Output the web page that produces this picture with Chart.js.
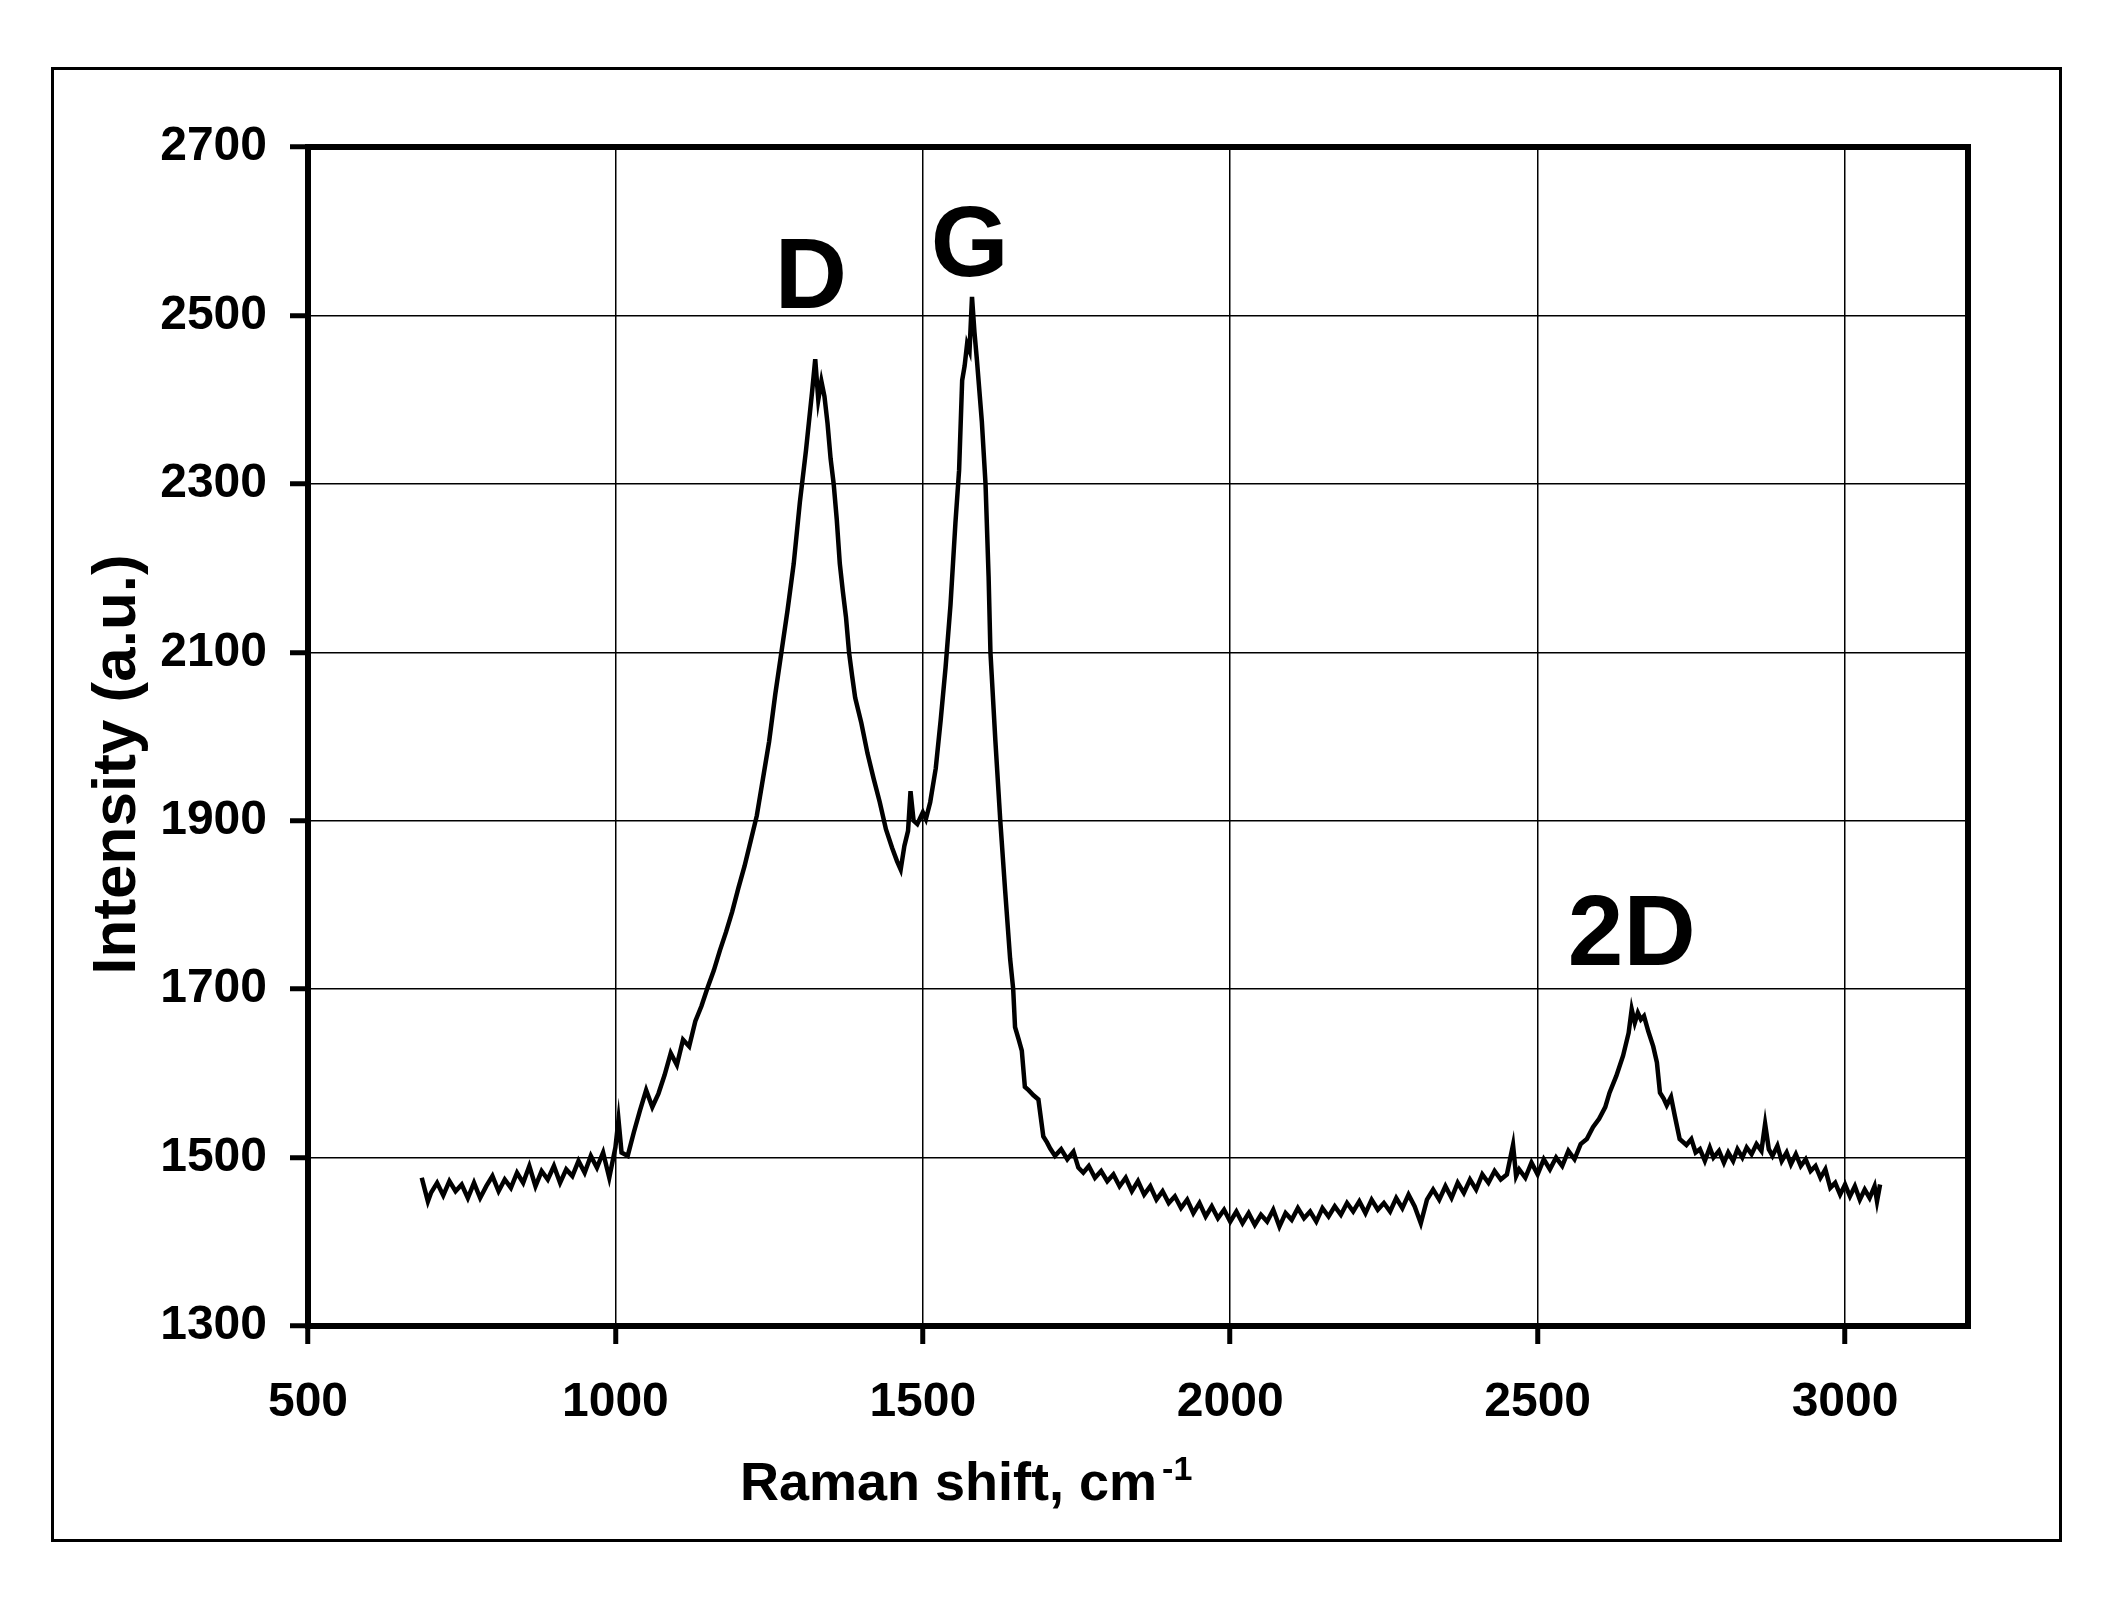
<!DOCTYPE html>
<html><head><meta charset="utf-8">
<script src="https://cdn.jsdelivr.net/npm/chart.js@4.4.1/dist/chart.umd.min.js"></script>
<style>html,body{margin:0;padding:0;background:#fff}canvas{display:block}</style>
</head><body>
<canvas id="c" width="2120" height="1604"></canvas>
<script>
// ---- data ----
const ramanShift = [
 685,690,695,700,710,720,730,740,750,760,
 770,780,790,800,810,820,830,840,850,860,
 870,880,890,900,910,920,930,940,950,960,
 970,980,990,1000,1005,1010,1020,1030,1040,1050,
 1060,1070,1080,1090,1100,1110,1120,1130,1140,1150,
 1160,1170,1180,1190,1200,1210,1220,1230,1240,1250,
 1260,1270,1280,1290,1300,1310,1320,1325,1330,1335,
 1340,1345,1350,1355,1360,1365,1370,1375,1380,1385,
 1390,1400,1410,1420,1430,1440,1450,1458,1464,1470,
 1476,1480,1485,1491,1500,1505,1512,1521,1529,1537,
 1545,1553,1559,1564,1568,1572,1576,1580,1584,1588,
 1596,1602,1607,1610,1618,1626,1634,1642,1647,1650,
 1656,1661,1666,1672,1680,1688,1696,1702,1707,1715,
 1725,1735,1745,1753,1761,1770,1780,1790,1800,1810,
 1820,1830,1840,1850,1860,1870,1880,1890,1900,1910,
 1920,1930,1940,1950,1960,1970,1980,1990,2000,2010,
 2020,2030,2040,2050,2060,2070,2080,2090,2100,2110,
 2120,2130,2140,2150,2160,2170,2180,2190,2200,2210,
 2220,2230,2240,2250,2260,2270,2280,2290,2300,2310,
 2320,2330,2340,2350,2360,2370,2380,2390,2400,2410,
 2420,2430,2440,2450,2460,2465,2470,2480,2490,2500,
 2510,2520,2530,2540,2550,2560,2570,2580,2590,2600,
 2610,2617,2628,2639,2648,2653,2658,2663,2668,2673,
 2680,2688,2694,2699,2705,2710,2717,2723,2731,2742,
 2750,2757,2764,2772,2780,2786,2795,2803,2810,2818,
 2825,2833,2840,2848,2856,2864,2870,2876,2882,2890,
 2897,2905,2912,2920,2928,2936,2944,2952,2960,2968,
 2976,2984,2992,3000,3008,3016,3024,3032,3040,3048,
 3052,3057
];
const intensity = [
 1476,1462,1448,1458,1470,1455,1472,1460,1468,1452,
 1470,1452,1466,1478,1460,1474,1464,1482,1470,1490,
 1466,1484,1474,1490,1470,1486,1478,1496,1482,1502,
 1488,1506,1476,1512,1545,1506,1502,1530,1556,1580,
 1560,1576,1598,1624,1610,1640,1632,1662,1680,1702,
 1722,1746,1768,1792,1820,1846,1876,1906,1950,1994,
 2050,2100,2150,2205,2278,2340,2410,2448,2400,2422,
 2404,2372,2330,2300,2258,2205,2172,2142,2100,2072,
 2046,2016,1980,1950,1922,1890,1868,1852,1842,1870,
 1888,1935,1900,1896,1910,1902,1922,1962,2019,2082,
 2156,2253,2316,2423,2440,2466,2458,2522,2480,2447,
 2374,2300,2190,2100,1995,1900,1816,1736,1700,1655,
 1640,1627,1584,1580,1574,1569,1525,1518,1511,1502,
 1510,1498,1507,1488,1482,1490,1476,1484,1472,1480,
 1466,1476,1460,1472,1456,1466,1450,1460,1446,1454,
 1440,1450,1434,1446,1430,1442,1428,1438,1424,1436,
 1422,1434,1420,1432,1424,1438,1418,1434,1426,1440,
 1428,1436,1424,1440,1430,1442,1432,1446,1436,1448,
 1434,1450,1438,1446,1436,1452,1440,1456,1442,1422,
 1450,1462,1450,1466,1452,1470,1458,1474,1462,1480,
 1470,1484,1474,1480,1515,1478,1486,1476,1494,1480,
 1498,1486,1500,1490,1508,1498,1516,1522,1536,1546,
 1560,1577,1597,1621,1648,1676,1660,1672,1664,1668,
 1650,1632,1613,1577,1570,1562,1572,1550,1522,1515,
 1522,1506,1510,1496,1512,1500,1508,1494,1506,1496,
 1510,1500,1512,1504,1516,1508,1540,1510,1502,1514,
 1496,1506,1492,1504,1490,1498,1484,1490,1476,1486,
 1464,1470,1456,1468,1454,1466,1450,1462,1452,1466,
 1448,1468
];
const xTicks = [500, 1000, 1500, 2000, 2500, 3000];
const yTicks = [1300, 1500, 1700, 1900, 2100, 2300, 2500, 2700];
const peakNames = ['D', 'G', '2D'];
const peakShift = [1318, 1576, 2653];
const peakLevel = [2509, 2547, 1729];
const xTitleMain = 'Raman shift, cm';
const xTitleSup = '-1';
const yTitle = 'Intensity (a.u.)';

// ---- chart ----
const FAMILY = '"Liberation Sans", Arial, Helvetica, sans-serif';
const points = ramanShift.map((v, i) => ({x: v, y: intensity[i]}));

const decor = {
  id: 'decor',
  beforeDraw(chart) {
    const ctx = chart.ctx;
    ctx.save();
    ctx.fillStyle = '#fff';
    ctx.fillRect(0, 0, chart.width, chart.height);
    ctx.strokeStyle = '#000';
    ctx.lineWidth = 3;
    ctx.strokeRect(52.5, 68.5, 2008, 1472);
    ctx.restore();
  },
  afterDraw(chart) {
    const {ctx, chartArea: a, scales} = chart;
    ctx.save();
    ctx.strokeStyle = '#000';
    ctx.lineWidth = 6;
    ctx.strokeRect(a.left, a.top, a.right - a.left, a.bottom - a.top);
    ctx.fillStyle = '#000';
    // peak labels
    ctx.font = 'bold 100px ' + FAMILY;
    ctx.textAlign = 'center';
    ctx.textBaseline = 'alphabetic';
    peakNames.forEach((n, i) => {
      ctx.fillText(n, scales.x.getPixelForValue(peakShift[i]), scales.y.getPixelForValue(peakLevel[i]));
    });
    // x axis title with superscript
    ctx.textAlign = 'left';
    ctx.font = 'bold 54px ' + FAMILY;
    const tx = a.left + 432, ty = a.bottom + 174;
    ctx.fillText(xTitleMain, tx, ty);
    const w = ctx.measureText(xTitleMain).width;
    ctx.font = 'bold 34px ' + FAMILY;
    ctx.fillText(xTitleSup, tx + w + 5, ty - 20);
    // y axis title
    ctx.translate(135, (a.top + a.bottom) / 2 + 28);
    ctx.rotate(-Math.PI / 2);
    ctx.textAlign = 'center';
    ctx.font = 'bold 62px ' + FAMILY;
    ctx.fillText(yTitle, 0, 0);
    ctx.restore();
  }
};

const axisCommon = {
  type: 'linear',
  grid: {color: '#000', lineWidth: 1.5, tickLength: 18, tickWidth: 5, tickColor: '#000'},
  border: {display: true, color: '#000', width: 6},
};
const plainLabel = v => String(v);

new Chart(document.getElementById('c'), {
  type: 'line',
  data: {
    datasets: [{
      data: points,
      borderColor: '#000',
      borderWidth: 4.5,
      borderJoinStyle: 'miter',
      pointRadius: 0,
      tension: 0,
      fill: false
    }]
  },
  options: {
    responsive: false,
    animation: false,
    devicePixelRatio: 1,
    layout: {padding: {left: 0, top: 147, right: 152, bottom: 0}},
    plugins: {legend: {display: false}, tooltip: {enabled: false}},
    scales: {
      x: Object.assign({}, axisCommon, {
        min: 500, max: 3200,
        afterBuildTicks: s => { s.ticks = xTicks.map(v => ({value: v})); },
        afterFit: s => { s.height = 278; },
        ticks: {color: '#000', font: {family: FAMILY, size: 48, weight: 'bold'}, padding: 30, maxRotation: 0, autoSkip: false, callback: plainLabel}
      }),
      y: Object.assign({}, axisCommon, {
        min: 1300, max: 2700,
        afterBuildTicks: s => { s.ticks = yTicks.map(v => ({value: v})); },
        afterFit: s => { s.width = 308; },
        ticks: {color: '#000', font: {family: FAMILY, size: 48, weight: 'bold'}, padding: 23, autoSkip: false, callback: plainLabel}
      })
    }
  },
  plugins: [decor]
});
</script>
</body></html>
